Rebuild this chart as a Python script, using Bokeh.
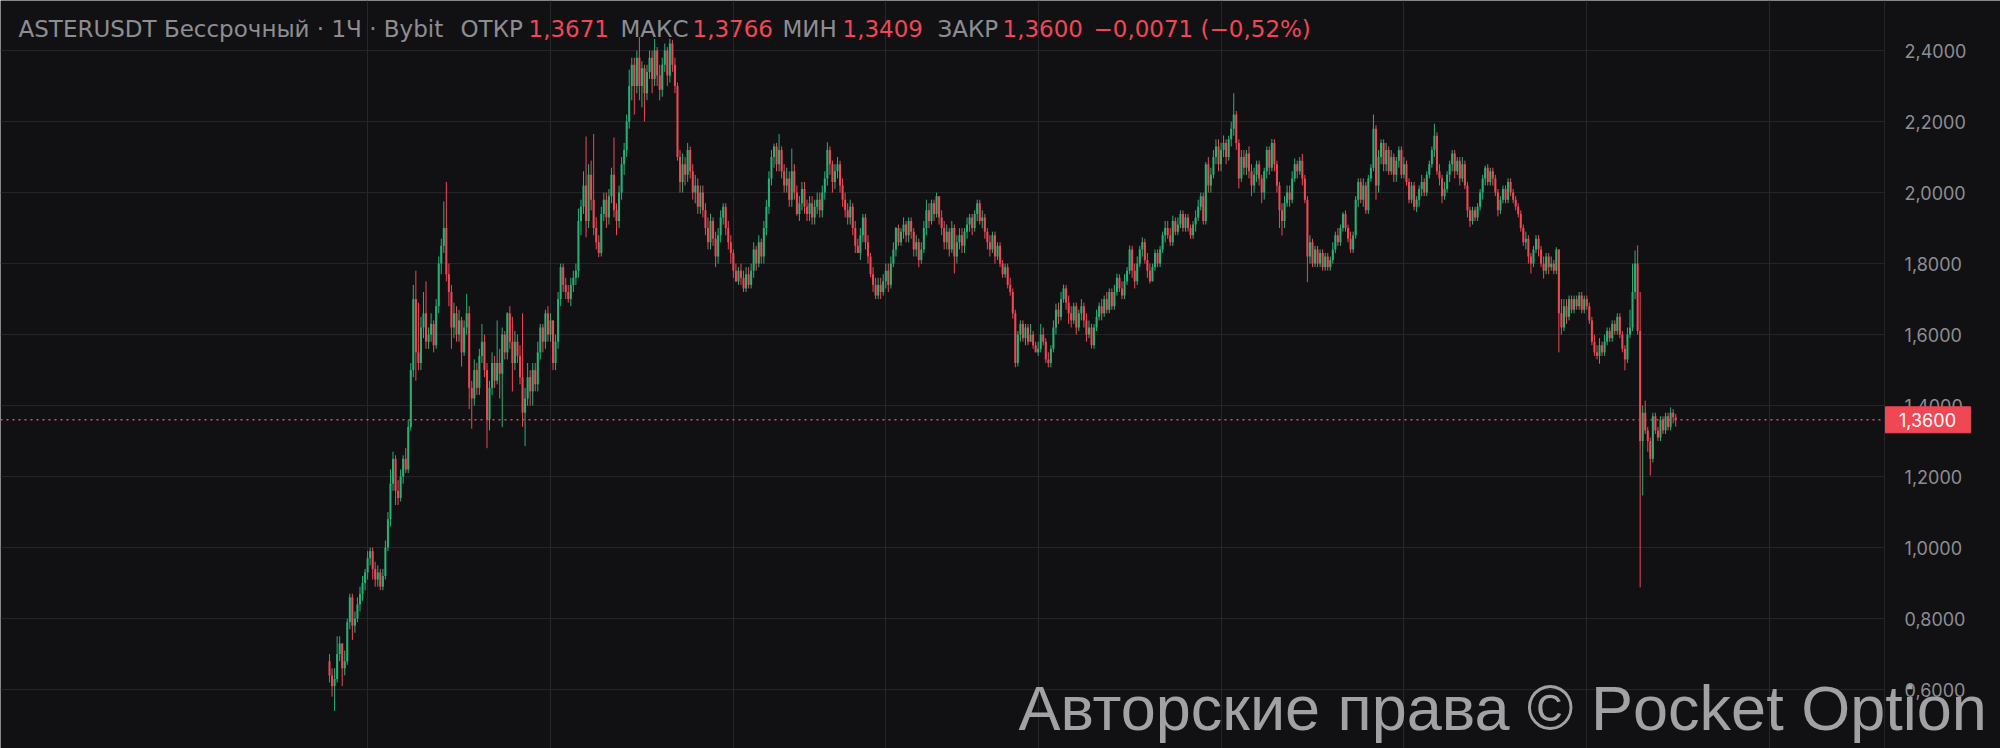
from bokeh.plotting import figure
from bokeh.models import ColumnDataSource, Range1d, FixedTicker, Span, Label
from bokeh.embed import file_html
from bokeh.resources import INLINE
from bokeh.core.properties import value

# ---------------- data (hourly candles) ----------------
open_first = 0.68
close = [
    0.64, 0.61, 0.63, 0.70, 0.73, 0.66, 0.68, 0.79, 0.86, 0.78,
    0.80, 0.84, 0.87, 0.90, 0.93, 0.97, 0.99, 0.94, 0.91, 0.93,
    0.89, 0.92, 1.00, 1.08, 1.18, 1.25, 1.16, 1.14, 1.20, 1.25,
    1.22, 1.34, 1.50, 1.70, 1.55, 1.52, 1.62, 1.66, 1.58, 1.60,
    1.63, 1.57, 1.68, 1.80, 1.85, 1.90, 1.77, 1.72, 1.62, 1.66,
    1.60, 1.64, 1.55, 1.62, 1.66, 1.45, 1.42, 1.50, 1.45, 1.54,
    1.58, 1.50, 1.36, 1.45, 1.52, 1.47, 1.52, 1.49, 1.60, 1.55,
    1.66, 1.58, 1.52, 1.58, 1.54, 1.48, 1.38, 1.42, 1.48, 1.44,
    1.50, 1.46, 1.55, 1.62, 1.58, 1.66, 1.60, 1.64, 1.52, 1.58,
    1.70, 1.79, 1.74, 1.72, 1.70, 1.74, 1.76, 1.78, 1.92, 1.96,
    2.02, 1.92, 2.05, 1.98, 1.90, 1.86, 1.83, 1.94, 1.98, 1.93,
    1.99, 2.05, 1.95, 1.92, 2.00, 2.08, 2.12, 2.20, 2.30, 2.36,
    2.30, 2.38, 2.30, 2.35, 2.28, 2.34, 2.38, 2.32, 2.40, 2.33,
    2.29, 2.36, 2.40, 2.33, 2.42, 2.36, 2.30, 2.10, 2.03, 2.08,
    2.05, 2.12, 2.06, 2.00, 2.02, 1.96, 2.00, 1.95, 1.90, 1.86,
    1.92, 1.87, 1.82, 1.88, 1.93, 1.96, 1.90, 1.86, 1.83, 1.78,
    1.75, 1.78, 1.76, 1.73, 1.77, 1.74, 1.78, 1.84, 1.80, 1.86,
    1.82, 1.90, 1.96, 2.04, 2.10, 2.13, 2.08, 2.12, 2.06, 2.02,
    2.04, 1.98, 2.06, 2.00, 1.94, 1.97, 2.01, 1.96, 1.94, 1.97,
    1.93, 1.96, 1.98, 1.95, 2.00, 2.04, 2.12, 2.08, 2.03, 2.06,
    2.08, 2.02, 1.98, 1.95, 1.93, 1.96, 1.90, 1.85, 1.83, 1.88,
    1.93, 1.86, 1.82, 1.77, 1.74, 1.71, 1.74, 1.72, 1.75, 1.78,
    1.74, 1.80, 1.84, 1.90, 1.86, 1.89, 1.91, 1.88, 1.92, 1.89,
    1.84, 1.86, 1.81, 1.84, 1.90, 1.95, 1.92, 1.97, 1.94, 1.99,
    1.93, 1.90, 1.86, 1.89, 1.84, 1.90, 1.82, 1.86, 1.88, 1.85,
    1.89, 1.91, 1.93, 1.90, 1.94, 1.97, 1.92, 1.93, 1.89, 1.86,
    1.84, 1.88, 1.82, 1.85, 1.80, 1.77, 1.79, 1.74, 1.72, 1.66,
    1.52, 1.60, 1.63, 1.59, 1.62, 1.58, 1.60, 1.57, 1.55, 1.56,
    1.60, 1.58, 1.53, 1.52, 1.56, 1.62, 1.67, 1.65, 1.70, 1.73,
    1.69, 1.66, 1.64, 1.68, 1.62, 1.66, 1.68, 1.64, 1.60, 1.62,
    1.57, 1.62, 1.65, 1.68, 1.66, 1.70, 1.67, 1.72, 1.68, 1.72,
    1.76, 1.73, 1.71, 1.75, 1.78, 1.84, 1.78, 1.75, 1.80, 1.84,
    1.86, 1.81, 1.78, 1.75, 1.79, 1.83, 1.80, 1.84, 1.88, 1.90,
    1.88, 1.86, 1.92, 1.89, 1.91, 1.94, 1.90, 1.93, 1.90, 1.88,
    1.91, 1.93, 1.96, 1.99, 1.92, 2.08, 2.02, 2.05, 2.10, 2.13,
    2.08, 2.12, 2.14, 2.10, 2.15, 2.18, 2.22, 2.14, 2.04, 2.10,
    2.07, 2.11, 2.06, 2.02, 2.05, 2.08, 2.04, 2.00, 2.06, 2.12,
    2.07, 2.14, 2.08, 2.02, 1.95, 1.92, 1.97, 2.00, 1.98, 2.04,
    2.08, 2.06, 2.09, 2.04, 1.98, 1.82, 1.86, 1.80, 1.84, 1.80,
    1.83, 1.79, 1.82, 1.79, 1.81, 1.84, 1.88, 1.86, 1.90, 1.94,
    1.90, 1.87, 1.84, 1.88, 1.98, 2.03, 1.98, 2.02, 1.95, 2.04,
    2.07, 2.18, 2.02, 2.10, 2.14, 2.08, 2.12, 2.06, 2.10, 2.05,
    2.09, 2.12, 2.05, 2.08, 2.03, 1.98, 2.02, 1.96, 1.98, 2.01,
    2.03, 2.00, 2.05, 2.08, 2.12, 2.16, 2.06, 2.04, 1.99, 2.01,
    2.05, 2.08, 2.11, 2.06, 2.09, 2.04, 2.08, 2.02, 1.95, 1.92,
    1.95, 1.93, 1.96, 2.00, 2.04, 2.07, 2.03, 2.06, 2.04, 2.00,
    1.95, 1.98, 2.01, 1.98, 2.03, 2.00, 1.98, 1.96, 1.94, 1.90,
    1.86, 1.87, 1.82, 1.80, 1.84, 1.87, 1.84, 1.80, 1.78, 1.82,
    1.79, 1.80, 1.78, 1.84, 1.66, 1.62, 1.68, 1.65, 1.70, 1.67,
    1.70, 1.68, 1.71, 1.67, 1.70, 1.68, 1.64, 1.58, 1.55, 1.54,
    1.57, 1.55, 1.58, 1.61, 1.59, 1.63, 1.61, 1.65, 1.60, 1.56,
    1.53, 1.60, 1.62, 1.72, 1.80, 1.61, 1.30, 1.38, 1.33, 1.30,
    1.25, 1.37, 1.33, 1.31, 1.36, 1.33, 1.37, 1.34, 1.38, 1.3671, 1.3600,
]
high = [
    0.70, 0.66, 0.66, 0.75, 0.75, 0.73, 0.71, 0.80, 0.87, 0.87,
    0.82, 0.86, 0.89, 0.92, 0.94, 0.99, 1.00, 1.00, 0.96, 0.95,
    0.94, 0.94, 1.02, 1.10, 1.22, 1.27, 1.26, 1.19, 1.22, 1.26,
    1.28, 1.36, 1.52, 1.74, 1.78, 1.69, 1.65, 1.72, 1.75, 1.62,
    1.66, 1.64, 1.70, 1.82, 1.87, 1.975, 2.03, 1.80, 1.74, 1.69,
    1.68, 1.67, 1.65, 1.64, 1.715, 1.68, 1.47, 1.53, 1.52, 1.56,
    1.63, 1.60, 1.52, 1.47, 1.55, 1.54, 1.64, 1.56, 1.62, 1.61,
    1.663, 1.68, 1.65, 1.61, 1.60, 1.57, 1.66, 1.45, 1.52, 1.50,
    1.52, 1.52, 1.58, 1.63, 1.63, 1.67, 1.68, 1.66, 1.64, 1.60,
    1.72, 1.80, 1.80, 1.76, 1.74, 1.76, 1.78, 1.80, 1.955, 1.98,
    2.06, 2.158, 2.08, 2.09, 2.165, 1.93, 1.88, 1.96, 2.00, 2.00,
    2.01, 2.07, 2.155, 1.97, 2.02, 2.10, 2.14, 2.22, 2.346, 2.38,
    2.38, 2.40, 2.438, 2.37, 2.36, 2.36, 2.40, 2.40, 2.433, 2.41,
    2.36, 2.38, 2.42, 2.41, 2.433, 2.43, 2.38, 2.31, 2.12, 2.11,
    2.10, 2.14, 2.13, 2.08, 2.05, 2.04, 2.02, 2.02, 1.97, 1.93,
    1.94, 1.93, 1.89, 1.90, 1.95, 1.97, 1.97, 1.92, 1.88, 1.84,
    1.80, 1.79, 1.80, 1.78, 1.79, 1.79, 1.80, 1.86, 1.85, 1.88,
    1.87, 1.92, 1.98, 2.06, 2.12, 2.138, 2.14, 2.165, 2.13, 2.08,
    2.07, 2.06, 2.124, 2.08, 2.02, 1.99, 2.03, 2.03, 1.98, 1.99,
    1.99, 1.98, 2.00, 2.00, 2.02, 2.06, 2.142, 2.13, 2.09, 2.08,
    2.10, 2.09, 2.04, 2.00, 1.97, 1.98, 1.97, 1.92, 1.87, 1.90,
    1.94, 1.94, 1.88, 1.83, 1.79, 1.76, 1.76, 1.76, 1.77, 1.80,
    1.80, 1.82, 1.86, 1.903, 1.91, 1.90, 1.93, 1.92, 1.93, 1.93,
    1.90, 1.88, 1.87, 1.86, 1.92, 1.98, 1.97, 1.98, 1.98, 2.00,
    1.99, 1.95, 1.92, 1.91, 1.90, 1.92, 1.91, 1.88, 1.90, 1.90,
    1.90, 1.93, 1.94, 1.94, 1.95, 1.98, 1.98, 1.95, 1.94, 1.90,
    1.88, 1.89, 1.89, 1.86, 1.86, 1.81, 1.80, 1.80, 1.76, 1.73,
    1.67, 1.61, 1.64, 1.64, 1.63, 1.63, 1.63, 1.61, 1.58, 1.58,
    1.63, 1.62, 1.59, 1.55, 1.57, 1.64, 1.687, 1.69, 1.72, 1.741,
    1.74, 1.71, 1.68, 1.69, 1.69, 1.67, 1.70, 1.69, 1.66, 1.64,
    1.63, 1.63, 1.67, 1.69, 1.70, 1.71, 1.72, 1.73, 1.73, 1.74,
    1.772, 1.77, 1.75, 1.77, 1.79, 1.851, 1.85, 1.80, 1.82, 1.85,
    1.874, 1.87, 1.83, 1.80, 1.80, 1.84, 1.84, 1.85, 1.89, 1.92,
    1.92, 1.90, 1.935, 1.93, 1.93, 1.95, 1.95, 1.94, 1.94, 1.91,
    1.92, 1.95, 1.98, 2.00, 2.00, 2.086, 2.10, 2.07, 2.12, 2.15,
    2.15, 2.14, 2.161, 2.15, 2.16, 2.20, 2.28, 2.23, 2.15, 2.12,
    2.12, 2.12, 2.13, 2.08, 2.07, 2.09, 2.09, 2.05, 2.07, 2.13,
    2.13, 2.151, 2.15, 2.09, 2.03, 1.97, 1.99, 2.02, 2.02, 2.06,
    2.096, 2.09, 2.10, 2.109, 2.05, 1.99, 1.88, 1.87, 1.85, 1.85,
    1.84, 1.84, 1.83, 1.83, 1.82, 1.86, 1.89, 1.90, 1.91, 1.945,
    1.95, 1.91, 1.89, 1.89, 1.99, 2.04, 2.04, 2.04, 2.03, 2.05,
    2.08, 2.22, 2.19, 2.12, 2.15, 2.15, 2.14, 2.13, 2.12, 2.11,
    2.10, 2.13, 2.13, 2.10, 2.09, 2.04, 2.03, 2.03, 1.99, 2.02,
    2.05, 2.04, 2.06, 2.09, 2.13, 2.194, 2.17, 2.08, 2.05, 2.03,
    2.06, 2.09, 2.12, 2.12, 2.10, 2.10, 2.10, 2.09, 2.03, 1.96,
    1.96, 1.96, 1.97, 2.01, 2.05, 2.076, 2.08, 2.07, 2.07, 2.05,
    2.01, 1.99, 2.02, 2.02, 2.04, 2.04, 2.01, 1.99, 1.97, 1.95,
    1.91, 1.89, 1.88, 1.83, 1.85, 1.88, 1.88, 1.85, 1.82, 1.83,
    1.83, 1.82, 1.81, 1.846, 1.84, 1.70, 1.70, 1.70, 1.71, 1.71,
    1.71, 1.71, 1.72, 1.72, 1.71, 1.71, 1.69, 1.65, 1.60, 1.57,
    1.59, 1.58, 1.60, 1.62, 1.62, 1.64, 1.64, 1.66, 1.66, 1.61,
    1.57, 1.62, 1.67, 1.80, 1.837, 1.851, 1.72, 1.40, 1.414, 1.34,
    1.31, 1.38, 1.38, 1.34, 1.37, 1.37, 1.38, 1.38, 1.395, 1.39, 1.3766,
]
low = [
    0.62, 0.58, 0.54, 0.62, 0.68, 0.61, 0.64, 0.67, 0.77, 0.74,
    0.76, 0.79, 0.82, 0.85, 0.88, 0.91, 0.95, 0.91, 0.89, 0.89,
    0.88, 0.88, 0.91, 0.99, 1.06, 1.16, 1.12, 1.12, 1.13, 1.18,
    1.21, 1.21, 1.33, 1.48, 1.47, 1.50, 1.50, 1.59, 1.56, 1.56,
    1.58, 1.55, 1.56, 1.66, 1.77, 1.83, 1.75, 1.68, 1.56, 1.59,
    1.58, 1.58, 1.51, 1.54, 1.60, 1.39, 1.335, 1.40, 1.43, 1.43,
    1.52, 1.48, 1.28, 1.33, 1.43, 1.45, 1.46, 1.42, 1.34, 1.53,
    1.53, 1.56, 1.44, 1.50, 1.52, 1.46, 1.34, 1.286, 1.40, 1.40,
    1.40, 1.44, 1.44, 1.53, 1.55, 1.56, 1.58, 1.58, 1.50, 1.50,
    1.56, 1.68, 1.72, 1.70, 1.69, 1.68, 1.72, 1.74, 1.76, 1.88,
    1.94, 1.874, 1.90, 1.95, 1.88, 1.84, 1.818, 1.82, 1.92, 1.90,
    1.91, 1.97, 1.93, 1.88, 1.90, 1.98, 2.05, 2.10, 2.18, 2.26,
    2.22, 2.28, 2.26, 2.24, 2.20, 2.26, 2.32, 2.28, 2.30, 2.30,
    2.26, 2.27, 2.34, 2.30, 2.31, 2.34, 2.28, 2.09, 2.00, 2.00,
    2.02, 2.03, 2.04, 1.98, 1.97, 1.94, 1.94, 1.93, 1.88, 1.84,
    1.84, 1.85, 1.79, 1.80, 1.86, 1.91, 1.88, 1.84, 1.80, 1.76,
    1.748, 1.74, 1.74, 1.72, 1.72, 1.73, 1.73, 1.76, 1.78, 1.79,
    1.80, 1.80, 1.88, 1.94, 2.02, 2.07, 2.06, 2.06, 2.04, 2.00,
    2.00, 1.96, 1.96, 1.98, 1.935, 1.92, 1.95, 1.94, 1.92, 1.92,
    1.91, 1.91, 1.94, 1.93, 1.93, 1.98, 2.02, 2.05, 2.00, 2.01,
    2.04, 2.00, 1.96, 1.93, 1.91, 1.91, 1.88, 1.83, 1.83, 1.81,
    1.86, 1.84, 1.80, 1.762, 1.72, 1.70, 1.70, 1.70, 1.71, 1.73,
    1.72, 1.73, 1.79, 1.82, 1.85, 1.85, 1.87, 1.86, 1.86, 1.87,
    1.82, 1.82, 1.79, 1.80, 1.83, 1.88, 1.90, 1.91, 1.92, 1.93,
    1.91, 1.88, 1.84, 1.84, 1.82, 1.83, 1.772, 1.80, 1.84, 1.83,
    1.83, 1.87, 1.89, 1.88, 1.89, 1.92, 1.91, 1.90, 1.87, 1.84,
    1.82, 1.83, 1.80, 1.81, 1.79, 1.76, 1.76, 1.73, 1.71, 1.645,
    1.508, 1.51, 1.58, 1.58, 1.57, 1.57, 1.58, 1.56, 1.55, 1.54,
    1.55, 1.57, 1.52, 1.508, 1.508, 1.55, 1.60, 1.63, 1.64, 1.69,
    1.67, 1.63, 1.62, 1.63, 1.60, 1.61, 1.64, 1.62, 1.58, 1.59,
    1.561, 1.56, 1.61, 1.64, 1.64, 1.65, 1.66, 1.66, 1.67, 1.67,
    1.71, 1.72, 1.70, 1.70, 1.74, 1.77, 1.76, 1.73, 1.74, 1.79,
    1.82, 1.80, 1.76, 1.744, 1.75, 1.78, 1.79, 1.79, 1.83, 1.86,
    1.87, 1.85, 1.85, 1.88, 1.88, 1.90, 1.89, 1.89, 1.89, 1.87,
    1.87, 1.89, 1.92, 1.95, 1.91, 1.91, 2.00, 2.00, 2.04, 2.08,
    2.06, 2.06, 2.10, 2.08, 2.09, 2.13, 2.16, 2.12, 2.012, 2.03,
    2.05, 2.05, 2.04, 1.99, 2.00, 2.03, 2.02, 1.97, 1.98, 2.04,
    2.05, 2.06, 2.06, 2.00, 1.90, 1.879, 1.90, 1.96, 1.96, 1.97,
    2.03, 2.04, 2.05, 2.02, 1.97, 1.748, 1.80, 1.79, 1.79, 1.79,
    1.79, 1.78, 1.78, 1.78, 1.78, 1.80, 1.83, 1.85, 1.85, 1.89,
    1.89, 1.86, 1.83, 1.83, 1.87, 1.96, 1.97, 1.96, 1.94, 1.94,
    2.03, 2.06, 1.98, 2.00, 2.08, 2.06, 2.06, 2.05, 2.05, 2.03,
    2.03, 2.07, 2.04, 2.04, 2.02, 1.97, 1.97, 1.95, 1.945, 1.96,
    1.99, 1.99, 1.99, 2.04, 2.07, 2.10, 2.05, 2.02, 1.97, 1.98,
    2.00, 2.03, 2.06, 2.04, 2.05, 2.02, 2.03, 2.01, 1.93, 1.903,
    1.91, 1.92, 1.92, 1.95, 1.98, 2.02, 2.02, 2.02, 2.02, 1.99,
    1.933, 1.94, 1.97, 1.97, 1.97, 1.99, 1.97, 1.95, 1.93, 1.89,
    1.85, 1.84, 1.80, 1.772, 1.79, 1.83, 1.82, 1.79, 1.758, 1.77,
    1.77, 1.78, 1.77, 1.77, 1.55, 1.60, 1.61, 1.63, 1.64, 1.66,
    1.66, 1.67, 1.67, 1.66, 1.66, 1.67, 1.63, 1.57, 1.54, 1.53,
    1.518, 1.54, 1.54, 1.57, 1.58, 1.58, 1.60, 1.60, 1.59, 1.55,
    1.499, 1.52, 1.59, 1.61, 1.70, 1.60, 0.888, 1.147, 1.32, 1.27,
    1.203, 1.24, 1.32, 1.30, 1.30, 1.32, 1.32, 1.33, 1.33, 1.35, 1.3409,
]
time_grid = [15, 87, 159, 219, 279, 351, 423, 495, 567]       # candle index of day lines
price_ticks = [0.6, 0.8, 1.0, 1.2, 1.4, 1.6, 1.8, 2.0, 2.2, 2.4]
title_text = "ASTERUSDT Бессрочный · 1Ч · Bybit"
ohlc_names = ["ОТКР", "МАКС", "МИН", "ЗАКР"]
watermark = "Авторские права © Pocket Option"

assert len(close) == len(high) == len(low), (len(close), len(high), len(low))

# ---------------- layout / styling ----------------
BG = "#111114"
GRID = "#27272b"
UP = "#29b074"
DOWN = "#ef4754"
TXT = "#8d8d92"
X_LEFT, X_RIGHT = -129.53, 657.87      # visible index range (whole canvas)
X_AXIS = 612.2                         # price-scale separator
X_LAB = 620.1                          # price labels
TAG_L, TAG_R = 612.6, 646.1            # current-price tag box (index units)
TAG_TXT = 617.9
TAG_HALF = 0.0366                      # half height of the tag (price units)

n = len(close)
opens = [open_first] + close[:-1]
xs = list(range(n))
hi = [max(h, o, c) for h, o, c in zip(high, opens, close)]
lo = [min(l, o, c) for l, o, c in zip(low, opens, close)]
src = ColumnDataSource(dict(
    x=xs, h=hi, l=lo,
    top=[max(o, c) for o, c in zip(opens, close)],
    bottom=[min(o, c) for o, c in zip(opens, close)],
    color=[UP if c >= o else DOWN for o, c in zip(opens, close)],
))

p = figure(width=2000, height=748, output_backend="svg", toolbar_location=None,
           x_range=Range1d(X_LEFT, X_RIGHT), y_range=Range1d(0.4341, 2.5411),
           x_axis_location=None, y_axis_location=None,
           min_border=0)
p.background_fill_color = BG
p.border_fill_color = BG
p.outline_line_color = None

p.xgrid.ticker = FixedTicker(ticks=time_grid)
p.xgrid.grid_line_color = GRID
p.ygrid.grid_line_color = None


def fmt(v):
    s = f"{abs(v):.4f}".replace(".", ",")
    return ("\u2212" + s) if v < 0 else s


# horizontal price grid, stopping at the price scale
p.segment(x0=[X_LEFT] * len(price_ticks), x1=[X_AXIS] * len(price_ticks),
          y0=price_ticks, y1=price_ticks, line_color=GRID, line_width=1)
# price-scale separator
p.add_layout(Span(location=X_AXIS, dimension="height", line_color=GRID, line_width=1))

# candles
p.segment(x0="x", y0="l", x1="x", y1="h", line_color="color", line_width=1, source=src)
p.vbar(x="x", width=0.8, top="top", bottom="bottom", fill_color="color",
       line_color=None, source=src)

last_o, last_h, last_l, last_c = opens[-1], hi[-1], lo[-1], close[-1]
# dotted last-price line
p.segment(x0=[X_LEFT], x1=[X_AXIS], y0=[last_c], y1=[last_c], line_color=DOWN,
          line_dash="2 4", line_width=1.5)

# watermark
p.add_layout(Label(x=1018, y=41, x_units="screen", y_units="screen", text=watermark,
                   text_color="#a2a2a4", text_font="Liberation Sans",
                   text_font_size="63px", text_baseline="alphabetic",
                   text_align="left"))

# price-scale labels (drawn above the watermark)
p.text(x=[X_LAB] * len(price_ticks), y=price_ticks,
       text=[fmt(t) for t in price_ticks], text_color=TXT,
       text_font=value("Inter"), text_font_size="18px",
       text_baseline="middle", text_align="left", level="overlay")

# current-price tag
p.quad(left=[TAG_L], right=[TAG_R], bottom=[last_c - TAG_HALF], top=[last_c + TAG_HALF],
       fill_color=DOWN, line_color=DOWN, level="overlay")
p.text(x=[TAG_TXT], y=[last_c], text=[fmt(last_c)], text_color="white",
       text_font=value("Inter"), text_font_size="18px",
       text_baseline="middle", text_align="left", level="overlay")

# header legend
chg = last_c - last_o
pct = chg / last_o * 100
pct_s = ("\u2212" if pct < 0 else "") + f"{abs(pct):.2f}".replace(".", ",") + "%"
items = [
    (18, title_text, TXT),
    (460, ohlc_names[0], TXT), (528, fmt(last_o), DOWN),
    (620, ohlc_names[1], TXT), (692, fmt(last_h), DOWN),
    (782, ohlc_names[2], TXT), (842, fmt(last_l), DOWN),
    (937, ohlc_names[3], TXT), (1002, fmt(last_c), DOWN),
    (1093, f"{fmt(chg)} ({pct_s})", DOWN),
]
for sx, t, col in items:
    p.add_layout(Label(x=sx, y=719.7, x_units="screen", y_units="screen", text=t,
                       text_color=col, text_font="DejaVu Sans", text_font_size="23px",
                       text_baseline="alphabetic", text_align="left"))

open("out.html", "w").write(file_html(p, INLINE))
